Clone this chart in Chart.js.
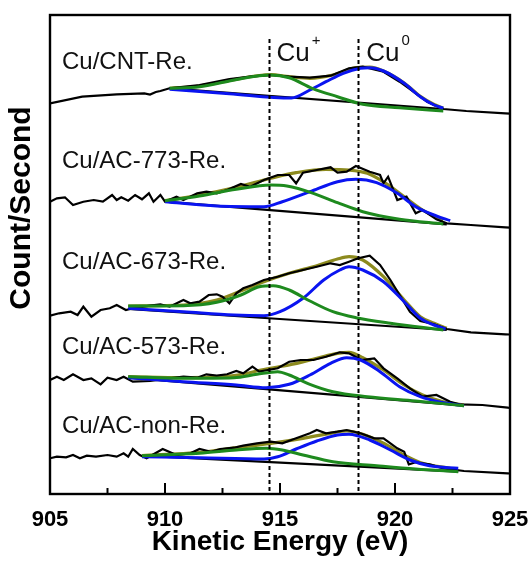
<!DOCTYPE html>
<html>
<head>
<meta charset="utf-8">
<script src="https://cdn.jsdelivr.net/npm/chart.js@4.4.1/dist/chart.umd.min.js"></script>
<style>
  html, body { margin: 0; padding: 0; background: #fff; }
  #wrap { width: 529px; height: 563px; }
</style>
</head>
<body>
<div id="wrap"><canvas id="xpsChart" width="529" height="563"></canvas></div>
<script>
// --- DỮ LIỆU : [năng lượng eV, cường độ tùy ý] ---
const energyTicks = [905, 910, 915, 920, 925];
const minorTicks = [907.5, 912.5, 917.5, 922.5];
const peakLines = [914.5, 918.4];
const peakNames = ['Cu', 'Cu'];
const peakSups = ['+', '0'];
const sampleNames = ['Cu/CNT-Re.', 'Cu/AC-773-Re.', 'Cu/AC-673-Re.', 'Cu/AC-573-Re.', 'Cu/AC-non-Re.'];

// Cu/CNT-Re.
const cntRaw = [[905.0,390.7],[906.4,397.3],[907.9,399.7],[909.1,400.7],[909.35,399.5],[909.6,402],[909.8,403],[910.2,405.7],[911.5,409],[912.8,415],[913.7,417.3],[914.6,419],[915.4,417.3],[916.3,416.3],[917.2,418.3],[918.0,425.7],[918.6,427.3],[919.5,422.3],[920.2,412.3],[920.8,402.3],[921.4,392.3],[922.1,385],[923.1,383],[924.8,380.7],[925.0,380.4]];
const cntBase = [[910.2,405.7],[922.1,385]];
const cntCu0 = [[910.2,404.7],[912.8,400.3],[915.5,396],[916.3,404],[917.0,412.3],[917.75,420.7],[918.5,425.7],[918.9,426.3],[919.5,423],[920.4,410.7],[921.1,397.3],[921.7,389],[922.1,385.7]];
const cntCu1 = [[910.2,405.7],[911.5,407.3],[912.8,413],[914.1,418.3],[914.6,419],[915.4,416.3],[916.4,405.7],[917.5,397.3],[918.6,389.7],[920.2,386.3],[922.1,383]];
const cntFit = [[910.2,405.7],[911.5,408],[912.8,413.5],[914.1,418.5],[914.6,419.3],[915.4,417.3],[916.3,415.7],[917.3,419],[918.3,426.3],[918.9,426.8],[919.5,423],[920.4,411],[921.1,397.7],[921.7,389.5],[922.1,386]];

// Cu/AC-773-Re.
const ac773Raw = [[905.0,292.3],[905.3,295.7],[905.65,296.7],[906.0,289],[906.45,292.3],[906.9,294],[907.3,292.3],[907.7,299],[907.9,294],[908.1,296.7],[908.4,293.3],[908.7,299],[909.0,294.7],[909.3,300.7],[909.5,292.3],[909.8,299],[910.0,292.3],[910.5,297.3],[910.8,294],[911.4,300.7],[911.8,302.3],[912.25,300.7],[912.7,304],[913.3,310],[913.7,307.3],[914.3,314],[914.9,319],[915.4,319],[915.7,310.7],[916.0,321.3],[916.6,324],[917.2,326.7],[917.5,321.3],[917.9,322.3],[918.3,328],[918.9,322.3],[919.35,319],[919.5,310.7],[919.7,317.3],[920.1,294],[920.5,297.3],[920.9,280.7],[921.2,284],[921.8,274.7],[922.25,270.7],[923.3,269],[924.8,266.7],[925.0,266.4]];
const ac773Base = [[910.0,292.3],[922.25,269.7]];
const ac773Cu0 = [[910.0,292.3],[912.25,288],[914.3,287.3],[915.1,292.3],[916.3,302.3],[917.5,312.3],[918.3,314.7],[919.2,311.3],[920.1,300.7],[920.9,287.3],[921.8,278],[922.4,273.3]];
const ac773Cu1 = [[910.0,293.3],[911.5,298],[913.1,304.7],[914.6,309],[915.3,308],[916.45,300.7],[917.5,291.3],[918.6,282.3],[920.2,274.7],[922.1,270]];
const ac773Fit = [[910.0,293.3],[911.5,299],[913.1,306.7],[914.6,315.7],[915.7,321.3],[917.0,324.7],[918.0,324],[918.8,320.7],[919.6,310.7],[920.4,297.3],[921.2,284],[922.1,274]];

// Cu/AC-673-Re.
const ac673Raw = [[905.0,178.3],[905.4,180.7],[905.9,182.3],[906.2,179],[906.45,187.3],[906.8,177.3],[907.2,184],[907.6,185.7],[907.9,189],[908.3,184],[908.6,185.7],[909.35,188.3],[909.8,189.7],[910.2,187.3],[910.8,194],[911.1,190.7],[911.5,192.3],[911.9,199],[912.25,199.7],[912.5,197.3],[912.8,190.7],[913.1,200.7],[913.4,205.7],[913.8,209],[914.3,214],[914.9,217.3],[915.4,220.7],[916.0,224],[916.6,227.3],[917.2,230.7],[917.6,229],[918.0,232.3],[918.4,235.7],[918.9,238.3],[919.35,229],[919.8,214],[920.2,199],[920.65,182.3],[921.1,173],[921.7,169.7],[922.25,165],[923.3,161.7],[924.8,159.7],[925.0,159.5]];
const ac673Base = [[908.4,185],[922.25,164]];
const ac673Cu0 = [[908.4,185.7],[910.8,182.3],[913.0,179],[914.3,178.3],[915.0,182.3],[916.0,195.7],[916.9,214],[917.6,224],[918.0,227.3],[918.6,224],[919.5,212.3],[920.4,192.3],[921.1,175.7],[921.7,169],[922.2,165]];
const ac673Cu1 = [[908.4,188],[910.8,188.3],[912.25,191.7],[913.3,199],[914.1,207.3],[914.7,208.3],[915.4,204],[916.3,193],[917.3,182.3],[918.3,176.3],[919.8,170.7],[922.1,164]];
const ac673Fit = [[908.4,188],[910.8,189],[912.25,194],[913.4,204],[914.3,212.3],[915.4,220.7],[916.6,228.3],[917.5,235],[918.0,237.3],[918.6,234],[919.5,217.3],[920.4,194],[921.1,177.3],[921.7,170.7],[922.25,165.7]];

// Cu/AC-573-Re.
const ac573Raw = [[905.0,114],[905.3,117.3],[905.6,114],[906.0,119.7],[906.45,114],[906.8,115.7],[907.2,109.7],[907.5,116.3],[907.9,114],[908.2,117.3],[908.6,112.3],[909.35,113],[910.2,115.7],[910.8,117.3],[911.4,116.3],[911.8,119.7],[912.25,118.3],[912.7,119.7],[913.1,123],[913.4,120.7],[913.8,127.3],[914.1,122.3],[914.9,125.7],[915.4,132.3],[915.9,134],[916.45,134],[917.0,137.3],[917.6,141.7],[918.0,140.7],[918.55,134],[919.1,135.7],[919.5,125.7],[920.1,115.7],[920.65,105.7],[921.2,97.3],[921.8,99],[922.4,92.3],[922.8,89.7],[923.8,89],[924.9,86.3],[925.0,86]];
const ac573Base = [[908.4,116.3],[923.0,88.3]];
const ac573Cu0 = [[908.4,116.3],[910.8,112.3],[913.1,109],[914.4,106.3],[915.4,109.7],[916.3,119],[917.2,130.7],[917.9,136.3],[918.5,134],[919.35,122.3],[920.2,107.3],[921.1,97.3],[922.0,91.7],[923.0,88.3]];
const ac573Cu1 = [[908.4,117.3],[910.8,115.7],[913.0,116.3],[914.0,119.7],[914.9,122.3],[915.4,119],[916.3,109.7],[917.3,102.3],[918.8,97.3],[920.9,93],[923.0,88.3]];
const ac573Fit = [[908.4,117.3],[910.8,116.3],[913.0,118.3],[914.4,125],[915.4,129],[916.6,135.7],[917.5,140.7],[918.0,141.7],[918.6,136.3],[919.5,124],[920.4,109],[921.2,99],[922.1,92.3],[923.0,89]];

// Cu/AC-non-Re.
const acNonRaw = [[905.0,35.7],[905.3,37.3],[905.7,36.7],[906.0,39],[906.3,35.7],[906.6,38.3],[907.0,37.3],[907.5,39],[907.9,37.3],[908.2,40.7],[908.4,37.3],[908.6,45],[908.9,39],[909.2,35.7],[909.9,45],[910.5,39],[911.1,40.7],[911.5,45],[912.0,42.3],[912.4,45],[913.0,46.3],[913.4,48.3],[914.0,50.7],[914.6,52.3],[915.1,50.7],[915.7,55.7],[916.3,60.7],[916.6,64],[917.0,60.7],[917.5,62.3],[917.9,64],[918.5,60.7],[919.1,55.7],[919.5,55.7],[920.1,45.7],[920.4,42.3],[920.6,29.7],[920.9,31.7],[921.5,29.7],[922.1,25.7],[923.0,23],[924.9,20.7],[925.0,20.5]];
const acNonBase = [[909.0,38.3],[922.75,22.3]];
const acNonCu0 = [[909.0,37.3],[911.5,36.3],[914.3,35],[914.9,37.3],[915.7,45],[916.6,53],[917.5,59],[918.0,59.7],[918.9,54],[919.8,44],[920.65,34],[921.5,28.3],[922.75,25.7]];
const acNonCu1 = [[909.0,38.3],[911.5,40.7],[913.1,44],[914.4,45.7],[915.1,44],[916.0,39],[917.3,32.3],[919.2,28.3],[920.9,25],[922.75,22.3]];
const acNonFit = [[909.0,38.3],[911.5,41.7],[913.1,46.3],[914.6,50.7],[916.0,55.7],[917.2,60.7],[917.9,63],[918.6,59.7],[919.5,50.7],[920.4,39],[921.2,30.7],[922.4,25.7]];

const rawSets = [cntRaw, ac773Raw, ac673Raw, ac573Raw, acNonRaw];
const baseSets = [cntBase, ac773Base, ac673Base, ac573Base, acNonBase];
const cu0Sets = [cntCu0, ac773Cu0, ac673Cu0, ac573Cu0, acNonCu0];
const cu1Sets = [cntCu1, ac773Cu1, ac673Cu1, ac573Cu1, acNonCu1];
const fitSets = [cntFit, ac773Fit, ac673Fit, ac573Fit, acNonFit];

// --- MÀU ---
const C_RAW = '#000000';
const C_CU0 = '#0a14f0';
const C_CU1 = '#1e8a1e';
const C_FIT = '#8c8a1e';

function series(points, color, width, smooth, order) {
    return {
        data: points.map(p => ({ x: p[0], y: p[1] })),
        borderColor: color,
        borderWidth: width,
        pointRadius: 0,
        fill: false,
        cubicInterpolationMode: smooth ? 'monotone' : 'default',
        tension: 0,
        order: order
    };
}

let datasets = [];
for (let i = 0; i < rawSets.length; i++) {
    datasets.push(series(cu1Sets[i], C_CU1, 3, true, 1));
    datasets.push(series(cu0Sets[i], C_CU0, 3, true, 2));
    datasets.push(series(rawSets[i], C_RAW, 2.2, false, 3));
    datasets.push(series(fitSets[i], C_FIT, 3.2, true, 4));
    datasets.push(series(baseSets[i], C_RAW, 2.2, false, 5));
}

// --- PLUGIN: khung, vạch chia hướng vào, đường đứt nét, nhãn ---
const labelPos = [62, 161, 262, 347, 426];
const decorPlugin = {
    id: 'decor',
    afterDatasetsDraw(chart) {
        const ctx = chart.ctx;
        const area = chart.chartArea;
        const xs = chart.scales.x;
        ctx.save();

        // đường đứt nét tại Cu+ và Cu0
        ctx.strokeStyle = '#000';
        ctx.lineWidth = 2;
        ctx.setLineDash([4, 3]);
        peakLines.forEach(v => {
            const px = Math.round(xs.getPixelForValue(v)) + 0.5;
            ctx.beginPath();
            ctx.moveTo(px, area.top + 24);
            ctx.lineTo(px, area.bottom);
            ctx.stroke();
        });
        ctx.setLineDash([]);

        // khung
        ctx.lineWidth = 2.4;
        ctx.strokeRect(area.left, area.top, area.right - area.left, area.bottom - area.top);

        // vạch chia
        ctx.lineWidth = 2;
        energyTicks.forEach(v => {
            const px = xs.getPixelForValue(v);
            ctx.beginPath(); ctx.moveTo(px, area.bottom); ctx.lineTo(px, area.bottom - 11); ctx.stroke();
        });
        minorTicks.forEach(v => {
            const px = xs.getPixelForValue(v);
            ctx.beginPath(); ctx.moveTo(px, area.bottom); ctx.lineTo(px, area.bottom - 6); ctx.stroke();
        });

        // tên mẫu
        ctx.fillStyle = '#111';
        ctx.font = '24px "Liberation Sans", Arial, sans-serif';
        ctx.textBaseline = 'middle';
        ctx.textAlign = 'left';
        sampleNames.forEach((n, i) => ctx.fillText(n, area.left + 12, labelPos[i]));

        // Cu+ / Cu0
        peakLines.forEach((v, i) => {
            const px = xs.getPixelForValue(v);
            ctx.font = '26px "Liberation Sans", Arial, sans-serif';
            ctx.textBaseline = 'alphabetic';
            ctx.fillText(peakNames[i], px + 8, 61);
            const w = ctx.measureText(peakNames[i]).width;
            ctx.font = '15px "Liberation Sans", Arial, sans-serif';
            ctx.fillText(peakSups[i], px + 10 + w, 45);
        });

        // tiêu đề trục y
        ctx.translate(22, 208);
        ctx.rotate(-Math.PI / 2);
        ctx.font = 'bold 30px "Liberation Sans", Arial, sans-serif';
        ctx.textAlign = 'center';
        ctx.textBaseline = 'middle';
        ctx.fillStyle = '#000';
        ctx.fillText('Count/Second', 0, 0);
        ctx.restore();
    }
};

const myChart = new Chart(document.getElementById('xpsChart'), {
    type: 'line',
    data: { datasets },
    plugins: [decorPlugin],
    options: {
        responsive: false,
        animation: false,
        layout: { padding: { left: 50, right: 19, top: 15, bottom: 0 } },
        plugins: { legend: { display: false }, tooltip: { enabled: false } },
        scales: {
            x: {
                type: 'linear',
                min: 905,
                max: 925,
                afterBuildTicks: axis => { axis.ticks = energyTicks.map(v => ({ value: v })); },
                // cố định chiều cao trục x, bỏ phần đệm nhãn hai đầu
                afterFit: axis => { axis.height = 69; axis.paddingLeft = 0; axis.paddingRight = 0; },
                ticks: {
                    color: '#000',
                    padding: 15,
                    maxRotation: 0,
                    font: { family: '"Liberation Sans", Arial, sans-serif', size: 22, weight: 'bold', lineHeight: 1 }
                },
                grid: { display: false, drawTicks: false },
                border: { display: false },
                title: {
                    display: true,
                    text: 'Kinetic Energy (eV)',
                    color: '#000',
                    padding: { top: 0, bottom: 7 },
                    font: { family: '"Liberation Sans", Arial, sans-serif', size: 28, weight: 'bold', lineHeight: 1 }
                }
            },
            y: { display: false, min: 0, max: 479 }
        }
    }
});
</script>
</body>
</html>
